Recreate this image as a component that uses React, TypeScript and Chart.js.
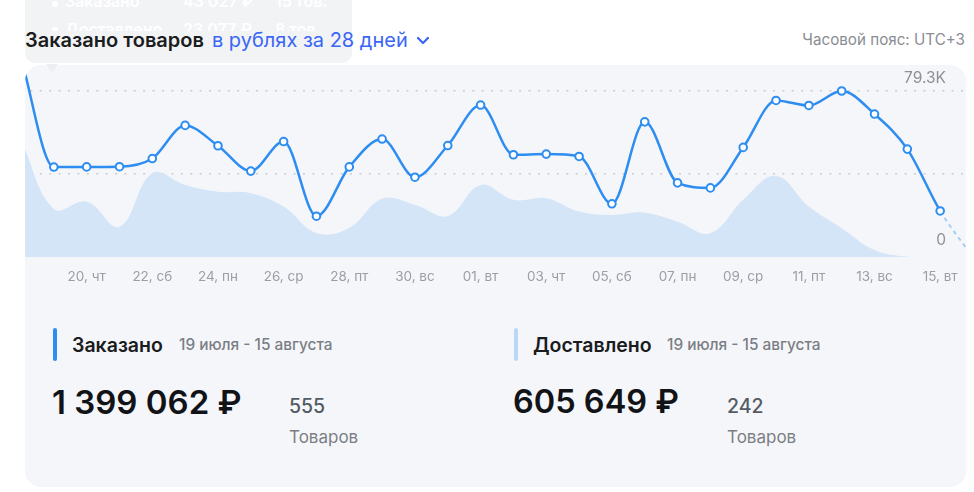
import React, { useEffect, useRef } from 'react';
import { Chart, registerables } from 'chart.js';

Chart.register(...registerables);

// ---------- data ----------
const CATEGORIES = [
  '18, вт', '19, ср', '20, чт', '21, пт', '22, сб', '23, вс', '24, пн', '25, вт', '26, ср', '27, чт',
  '28, пт', '29, сб', '30, вс', '31, пн', '01, вт', '02, ср', '03, чт', '04, пт', '05, сб', '06, вс',
  '07, пн', '08, вт', '09, ср', '10, чт', '11, пт', '12, сб', '13, вс', '14, пн', '15, вт', '16, ср',
];
const SHOWN_TICKS = [
  '20, чт', '22, сб', '24, пн', '26, ср', '28, пт', '30, вс', '01, вт', '03, чт', '05, сб', '07, пн',
  '09, ср', '11, пт', '13, вс', '15, вт',
];
const ORDERED = [
  95000, 43027, 43100, 43200, 47100, 62900, 53200, 41100, 55200, 19600,
  43100, 56400, 38200, 53300, 72600, 48900, 49200, 48100, 25500, 64600,
  35500, 33100, 52400, 74800, 72400, 79300, 68300, 51600, 22100, 0,
];
const DELIVERED = [
  56000, 23077, 26600, 14600, 40100, 34500, 31300, 30600, 24200, 11600,
  14000, 27900, 25000, 19700, 34500, 27400, 28200, 21800, 20200, 21300,
  17000, 11500, 27400, 38800, 24200, 13900, 3500, 300, 0, 0,
];
const Y_MAX = 79300;
const Y_GRID = [0, 39650, 79300];
const Y_LABEL_VALUES = [79300, 0];
const Y_LABEL_TEXT = ['79.3K', '0'];

const FONT = 'Inter, "Noto Sans", sans-serif';
const BLUE = '#2d8df0';
const LIGHT = '#d4e5f8';

const yLabelPlugin = {
  id: 'yLabels',
  afterDraw(chart: any) {
    const { ctx, scales } = chart;
    const y = scales.y;
    const offsets = [-13, -17];
    ctx.save();
    ctx.font = '15.5px ' + FONT;
    ctx.fillStyle = '#8d9096';
    ctx.textAlign = 'right';
    ctx.textBaseline = 'middle';
    Y_LABEL_VALUES.forEach((v, i) => {
      ctx.fillText(Y_LABEL_TEXT[i], 937, y.getPixelForValue(v) + offsets[i]);
    });
    ctx.restore();
  },
};

function ChartCanvas() {
  const ref = useRef<HTMLCanvasElement | null>(null);
  useEffect(() => {
    if (!ref.current) return;
    const last = ORDERED.length - 1;
    const chart = new Chart(ref.current, {
      type: 'line',
      data: {
        labels: CATEGORIES,
        datasets: [
          {
            label: 'Заказано',
            data: ORDERED,
            borderColor: BLUE,
            borderWidth: 2.5,
            backgroundColor: BLUE,
            fill: false,
            cubicInterpolationMode: 'monotone',
            pointRadius: (c: any) => (c.dataIndex === 0 || c.dataIndex === last ? 0 : 3.8),
            pointBackgroundColor: '#ffffff',
            pointBorderColor: BLUE,
            pointBorderWidth: 2,
            clip: false as any,
            segment: {
              borderColor: (c: any) => (c.p1DataIndex === last ? '#a6cdf6' : undefined),
              borderDash: (c: any) => (c.p1DataIndex === last ? [4, 4] : undefined),
              borderWidth: (c: any) => (c.p1DataIndex === last ? 2 : undefined),
            },
          } as any,
          {
            label: 'Доставлено',
            data: DELIVERED,
            borderWidth: 0,
            borderColor: LIGHT,
            backgroundColor: LIGHT,
            fill: 'origin',
            tension: 0.4,
            pointRadius: 0,
          },
        ],
      },
      options: {
        animation: false,
        responsive: false,
        events: [],
        layout: { autoPadding: false, padding: { top: 26, bottom: 10.5, left: 0, right: 0 } },
        plugins: { legend: { display: false }, tooltip: { enabled: false } },
        scales: {
          x: {
            offset: false,
            grid: { display: false, drawTicks: false },
            border: { display: false },
            ticks: {
              autoSkip: false,
              maxRotation: 0,
              minRotation: 0,
              padding: 12,
              color: '#9b9ea6',
              font: { family: FONT, size: 13.5 },
              callback: (_v: any, i: number) =>
                SHOWN_TICKS.includes(CATEGORIES[i]) ? CATEGORIES[i] : '',
            },
          },
          y: {
            min: 0,
            max: Y_MAX,
            afterBuildTicks: (s: any) => {
              s.ticks = Y_GRID.map((v) => ({ value: v }));
            },
            ticks: { display: false },
            grid: {
              drawTicks: false,
              lineWidth: 1.5,
              color: (c: any) => (c.tick && c.tick.value === 0 ? 'rgba(0,0,0,0)' : '#c9ccd3'),
            },
            border: { display: false, dash: [2, 7.4] },
          },
        },
      },
      plugins: [yLabelPlugin],
    } as any);
    return () => chart.destroy();
  }, []);
  return <canvas ref={ref} width={976} height={243} style={{ width: 976, height: 243, display: 'block' }} />;
}

const abs = (left: number, top: number, extra: React.CSSProperties = {}): React.CSSProperties => ({
  position: 'absolute',
  left,
  top,
  whiteSpace: 'nowrap',
  ...extra,
});

export default function App() {
  const tipText: React.CSSProperties = { color: '#ffffff', fontSize: 16, fontWeight: 600, lineHeight: '20px' };
  return (
    <div style={{ position: 'absolute', left: 0, top: 0, width: 974, height: 492, overflow: 'hidden', background: '#ffffff', fontFamily: FONT }}>
      {/* faded tooltip at the top */}
      <div style={abs(25, -12, { width: 327, height: 75, background: '#f2f3f5', borderRadius: 10 })} />
      <div style={abs(0, 0, { width: 400, height: 31, overflow: 'hidden' })}>
        <div style={abs(52, 1, { width: 6, height: 6, borderRadius: 3, background: '#ffffff' })} />
        <div style={abs(52, 27, { width: 6, height: 6, borderRadius: 3, background: '#ffffff' })} />
        <div style={abs(65, -9.5, tipText)}>Заказано</div>
        <div style={abs(183, -9.5, tipText)}>43 027 ₽</div>
        <div style={abs(275, -9.5, tipText)}>15 тов.</div>
        <div style={abs(65, 19, tipText)}>Доставлено</div>
        <div style={abs(183, 19, tipText)}>23 077 ₽</div>
        <div style={abs(275, 19, tipText)}>8 тов.</div>
      </div>

      {/* header */}
      <div style={abs(25, 27, { fontSize: 20, lineHeight: '26px', display: 'flex', alignItems: 'center' })}>
        <span style={{ color: '#1b1c20', fontWeight: 600 }}>Заказано товаров</span>
        <span style={{ color: '#3a66f5', marginLeft: 8 }}>в рублях за 28 дней</span>
        <svg width="14" height="10" viewBox="0 0 14 10" style={{ marginLeft: 8 }}>
          <polyline points="2,3 7,8 12,3" fill="none" stroke="#3a66f5" strokeWidth="2.2" strokeLinecap="round" strokeLinejoin="round" />
        </svg>
      </div>
      <div style={abs(0, 29, { width: 965, textAlign: 'right', fontSize: 15.2, lineHeight: '22px', color: '#8a8d93' })}>
        Часовой пояс: UTC+3
      </div>

      {/* card */}
      <div style={abs(25, 65, { width: 941, height: 422, background: '#f5f6fa', borderRadius: 16, overflow: 'hidden' })}>
        <div style={{ position: 'absolute', left: -16.5, top: 0 }}>
          <ChartCanvas />
        </div>
      </div>

      {/* tooltip arrow */}
      <div style={abs(46, 64, { width: 0, height: 0, borderLeft: '6px solid transparent', borderRight: '6px solid transparent', borderTop: '9px solid #eceef2' })} />

      {/* stats */}
      <div style={abs(53, 328, { width: 4, height: 33, borderRadius: 2, background: BLUE })} />
      <div style={abs(72, 332, { fontSize: 19.5, fontWeight: 600, lineHeight: '26px', color: '#1b1c20' })}>Заказано</div>
      <div style={abs(179, 334, { fontSize: 15.4, fontWeight: 500, lineHeight: '22px', color: '#7b7e85' })}>19 июля - 15 августа</div>
      <div style={abs(52, 382, { fontSize: 33, fontWeight: 600, lineHeight: '40px', color: '#111317' })}>1 399 062 ₽</div>
      <div style={abs(289, 393, { fontSize: 19.5, fontWeight: 500, lineHeight: '26px', color: '#555b63' })}>555</div>
      <div style={abs(289, 425, { fontSize: 17, lineHeight: '24px', color: '#7b7e85' })}>Товаров</div>

      <div style={abs(514, 328, { width: 4, height: 33, borderRadius: 2, background: '#b9d8f7' })} />
      <div style={abs(533, 332, { fontSize: 19.5, fontWeight: 600, lineHeight: '26px', color: '#1b1c20' })}>Доставлено</div>
      <div style={abs(667, 334, { fontSize: 15.4, fontWeight: 500, lineHeight: '22px', color: '#7b7e85' })}>19 июля - 15 августа</div>
      <div style={abs(513, 382, { fontSize: 32.5, fontWeight: 600, lineHeight: '40px', color: '#111317' })}>605 649 ₽</div>
      <div style={abs(727, 393, { fontSize: 19.5, fontWeight: 500, lineHeight: '26px', color: '#555b63' })}>242</div>
      <div style={abs(727, 425, { fontSize: 17, lineHeight: '24px', color: '#7b7e85' })}>Товаров</div>
    </div>
  );
}
